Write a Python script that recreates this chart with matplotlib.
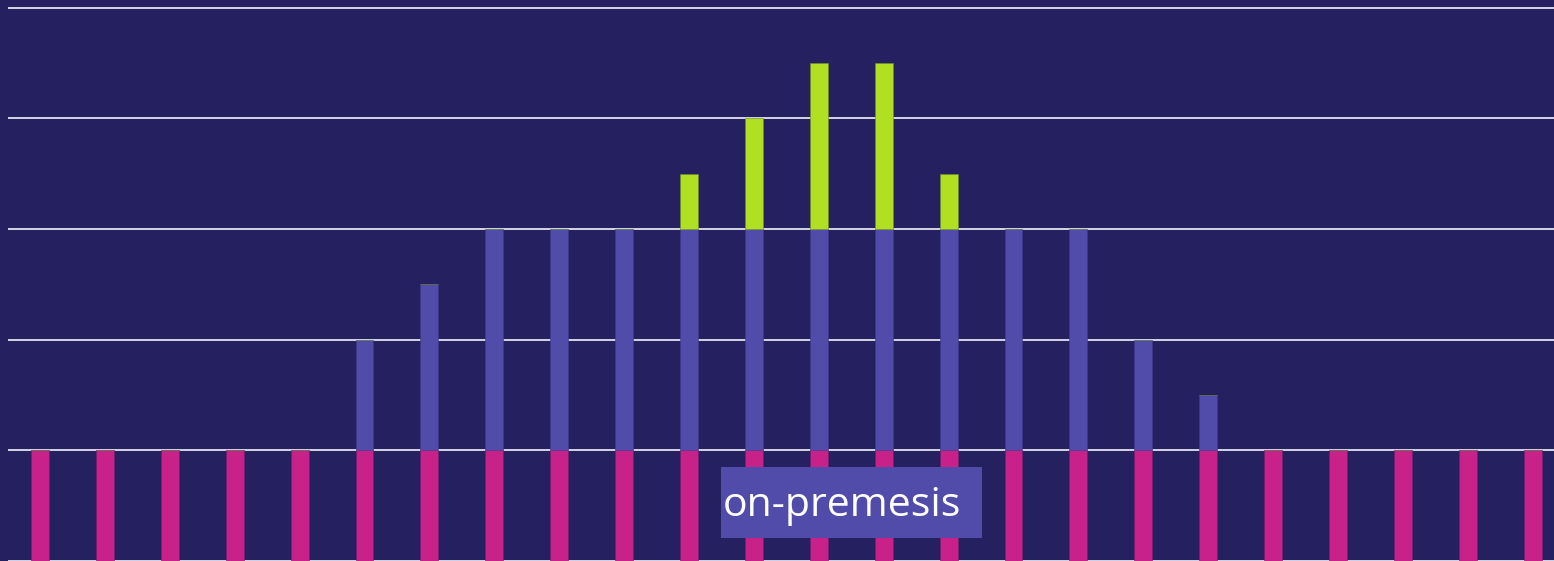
import matplotlib
matplotlib.use("Agg")
import matplotlib.pyplot as plt
from matplotlib.patches import Rectangle
import numpy as np

# stacked values per column (grid step = 1)
on_prem = [1] * 24
hybrid = [0, 0, 0, 0, 0, 1, 1.5, 2, 2, 2, 2, 2, 2, 2, 2, 2, 2, 1, 0.5, 0, 0, 0, 0, 0]
cloud = [0, 0, 0, 0, 0, 0, 0, 0, 0, 0, 0.5, 1, 1.5, 1.5, 0.5, 0, 0, 0, 0, 0, 0, 0, 0, 0]
grid_levels = [0, 1, 2, 3, 4, 5]
label_text = "on-premesis"

bg = "#252060"
c_prem = "#C9218A"
c_hyb = "#514BAA"
c_cloud = "#B0E021"

W, H = 1554, 561
fig = plt.figure(figsize=(W / 100, H / 100), dpi=100)
fig.patch.set_facecolor(bg)

# axes starts where the gridlines start (x=8px)
ax = fig.add_axes([8 / W, 0, 1 - 8 / W, 1])
ax.set_facecolor(bg)

step = 64.9
x = np.arange(len(on_prem))
ax.set_xlim(-32 / step, (W - 40) / step)
ax.set_ylim(-0.5 / 110.5, (H - 0.5) / 110.5)

for g in grid_levels:
    ax.axhline(g, color="#D4D4E4", lw=1.4, zorder=0)

on_prem = np.array(on_prem)
hybrid = np.array(hybrid)
cloud = np.array(cloud)
bw = 0.275
ax.bar(x, on_prem, width=bw, color=c_prem, edgecolor="#7a1d6a", lw=0.4, zorder=2)
ax.bar(x, hybrid, bottom=on_prem, width=bw, color=c_hyb, edgecolor="#3e3a8a", lw=0.4, zorder=2)
ax.bar(x, cloud, bottom=on_prem + hybrid, width=bw, color=c_cloud, edgecolor="#6f8f30", lw=0.4, zorder=2)

for s in ax.spines.values():
    s.set_visible(False)
ax.set_xticks([])
ax.set_yticks([])

# label box
fig.patches.append(Rectangle((721 / W, 1 - 538 / H), (982 - 721) / W, (538 - 467) / H,
                             transform=fig.transFigure, facecolor=c_hyb, edgecolor="none", zorder=5))
fig.text(723 / W, 1 - 506 / H, label_text, color="white", fontsize=29.5,
         family=["Open Sans", "DejaVu Sans"], ha="left", va="center", zorder=6)

fig.savefig("out.png", dpi=100, facecolor=bg)
